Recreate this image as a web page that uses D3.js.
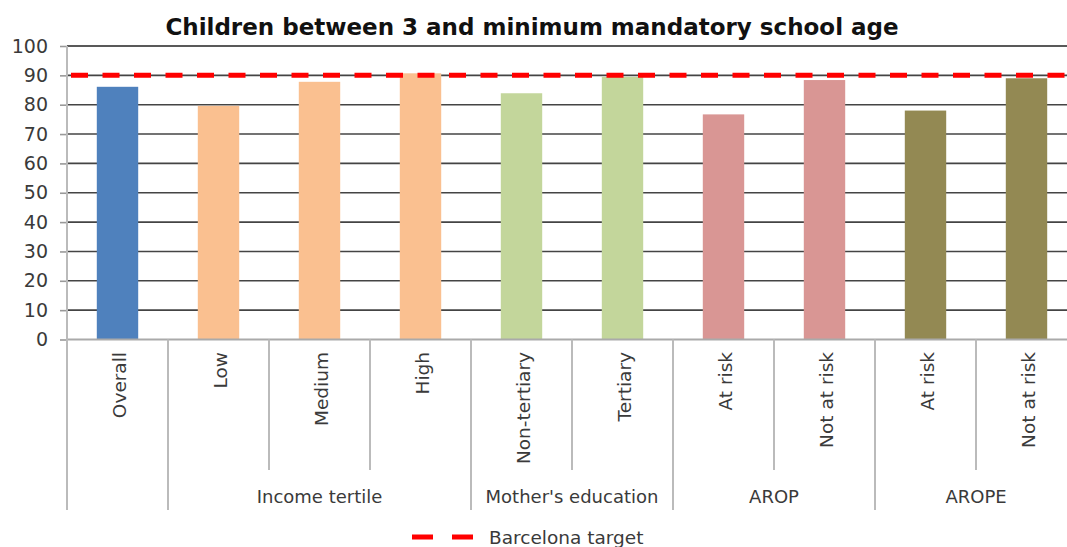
<!DOCTYPE html>
<html>
<head>
<meta charset="utf-8">
<script src="https://cdn.jsdelivr.net/npm/d3@7"></script>
<style>
  body { margin: 0; background: #fff; }
  svg { display: block; }
  text { font-family: "DejaVu Sans", "Open Sans", sans-serif; }
</style>
</head>
<body>
<svg id="chart" width="1067" height="547"></svg>
<script>
// Participation rates of children between 3 and mandatory school age
const categories = ["Overall", "Low", "Medium", "High", "Non-tertiary", "Tertiary",
                    "At risk", "Not at risk", "At risk", "Not at risk"];
const values = [86.1, 79.6, 87.8, 90.7, 83.9, 89.5, 76.7, 88.4, 78.0, 89.0];
const groupOf = [0, 1, 1, 1, 2, 2, 3, 3, 4, 4];
const groupNames = ["", "Income tertile", "Mother's education", "AROP", "AROPE"];
const groupColors = ["#4f81bd", "#fac090", "#c3d69b", "#d99694", "#938953"];
const yTicks = [0, 10, 20, 30, 40, 50, 60, 70, 80, 90, 100];
const targetValue = 90;
const targetLabel = "Barcelona target";
const title = "Children between 3 and minimum mandatory school age";

const svg = d3.select("#chart");
const W = 1067;
const plotLeft = 67, plotTop = 46, plotBottom = 339.5, band = 101;

const x = d3.scaleBand()
  .domain(d3.range(categories.length))
  .range([plotLeft, plotLeft + band * categories.length])
  .paddingInner(0).paddingOuter(0);
const y = d3.scaleLinear().domain([0, 100]).range([plotBottom, plotTop]);

// title
svg.append("text")
  .attr("x", 532).attr("y", 35)
  .attr("text-anchor", "middle")
  .attr("font-size", 23).attr("font-weight", "bold").attr("fill", "#111")
  .text(title);

// horizontal gridlines
svg.append("g").selectAll("line")
  .data(yTicks.filter(d => d > 0))
  .join("line")
  .attr("x1", plotLeft).attr("x2", W)
  .attr("y1", d => y(d)).attr("y2", d => y(d))
  .attr("stroke", d => d === 100 ? "#222" : "#444")
  .attr("stroke-width", 1.6);

// y axis
const yAxis = d3.axisLeft(y).tickValues(yTicks).tickSize(7).tickPadding(12);
const gy = svg.append("g").attr("transform", `translate(${plotLeft},0)`).call(yAxis);
gy.select(".domain").remove();
gy.selectAll(".tick line").attr("stroke", "#999").attr("stroke-width", 1.6);
gy.selectAll(".tick text")
  .attr("font-size", 19).attr("fill", "#3a3a3a")
  .style("font-family", '"DejaVu Sans", "Open Sans", sans-serif');

// bars
svg.append("g").selectAll("rect")
  .data(values)
  .join("rect")
  .attr("x", (d, i) => x(i) + x.bandwidth() * 0.295)
  .attr("width", x.bandwidth() * 0.41)
  .attr("y", d => y(d))
  .attr("height", d => y(0) - y(d))
  .attr("fill", (d, i) => groupColors[groupOf[i]]);

// target line
svg.append("line")
  .attr("x1", plotLeft + 4).attr("x2", W)
  .attr("y1", y(targetValue)).attr("y2", y(targetValue))
  .attr("stroke", "#ff0000").attr("stroke-width", 5)
  .attr("stroke-dasharray", "17,14.5");

// baseline
svg.append("line")
  .attr("x1", plotLeft).attr("x2", W).attr("y1", y(0)).attr("y2", y(0))
  .attr("stroke", "#aaa").attr("stroke-width", 2);

// category separators: tall between groups, short within groups
const sepX = d3.range(categories.length + 1).map(i => plotLeft + band * i);
svg.append("g").selectAll("line")
  .data(sepX.map((sx, i) => ({ sx, i })))
  .join("line")
  .attr("x1", d => d.sx).attr("x2", d => d.sx)
  .attr("y1", d => d.i === 0 ? plotTop : y(0))
  .attr("y2", d => {
    const isGroupEdge = d.i === 0 || d.i === categories.length ||
      groupOf[d.i] !== groupOf[d.i - 1];
    return isGroupEdge ? 510 : 470;
  })
  .attr("stroke", "#bbb").attr("stroke-width", 2);

// category labels (rotated)
svg.append("g").selectAll("text")
  .data(categories)
  .join("text")
  .attr("transform", (d, i) => `translate(${x(i) + x.bandwidth() / 2 + 8},352) rotate(-90)`)
  .attr("text-anchor", "end")
  .attr("font-size", 18.5).attr("fill", "#3a3a3a")
  .text(d => d);

// group labels
const groups = d3.range(1, groupNames.length).map(g => {
  const idx = d3.range(categories.length).filter(i => groupOf[i] === g);
  return { name: groupNames[g], x0: x(idx[0]), x1: x(idx[idx.length - 1]) + x.bandwidth() };
});
svg.append("g").selectAll("text")
  .data(groups)
  .join("text")
  .attr("x", d => (d.x0 + d.x1) / 2).attr("y", 503)
  .attr("text-anchor", "middle")
  .attr("font-size", 18).attr("fill", "#3a3a3a")
  .text(d => d.name);

// legend
const lg = svg.append("g");
lg.append("line")
  .attr("x1", 412).attr("x2", 474).attr("y1", 537).attr("y2", 537)
  .attr("stroke", "#ff0000").attr("stroke-width", 5)
  .attr("stroke-dasharray", "21,19");
lg.append("text")
  .attr("x", 489).attr("y", 544)
  .attr("font-size", 18.5).attr("fill", "#3a3a3a")
  .text(targetLabel);
</script>
</body>
</html>
